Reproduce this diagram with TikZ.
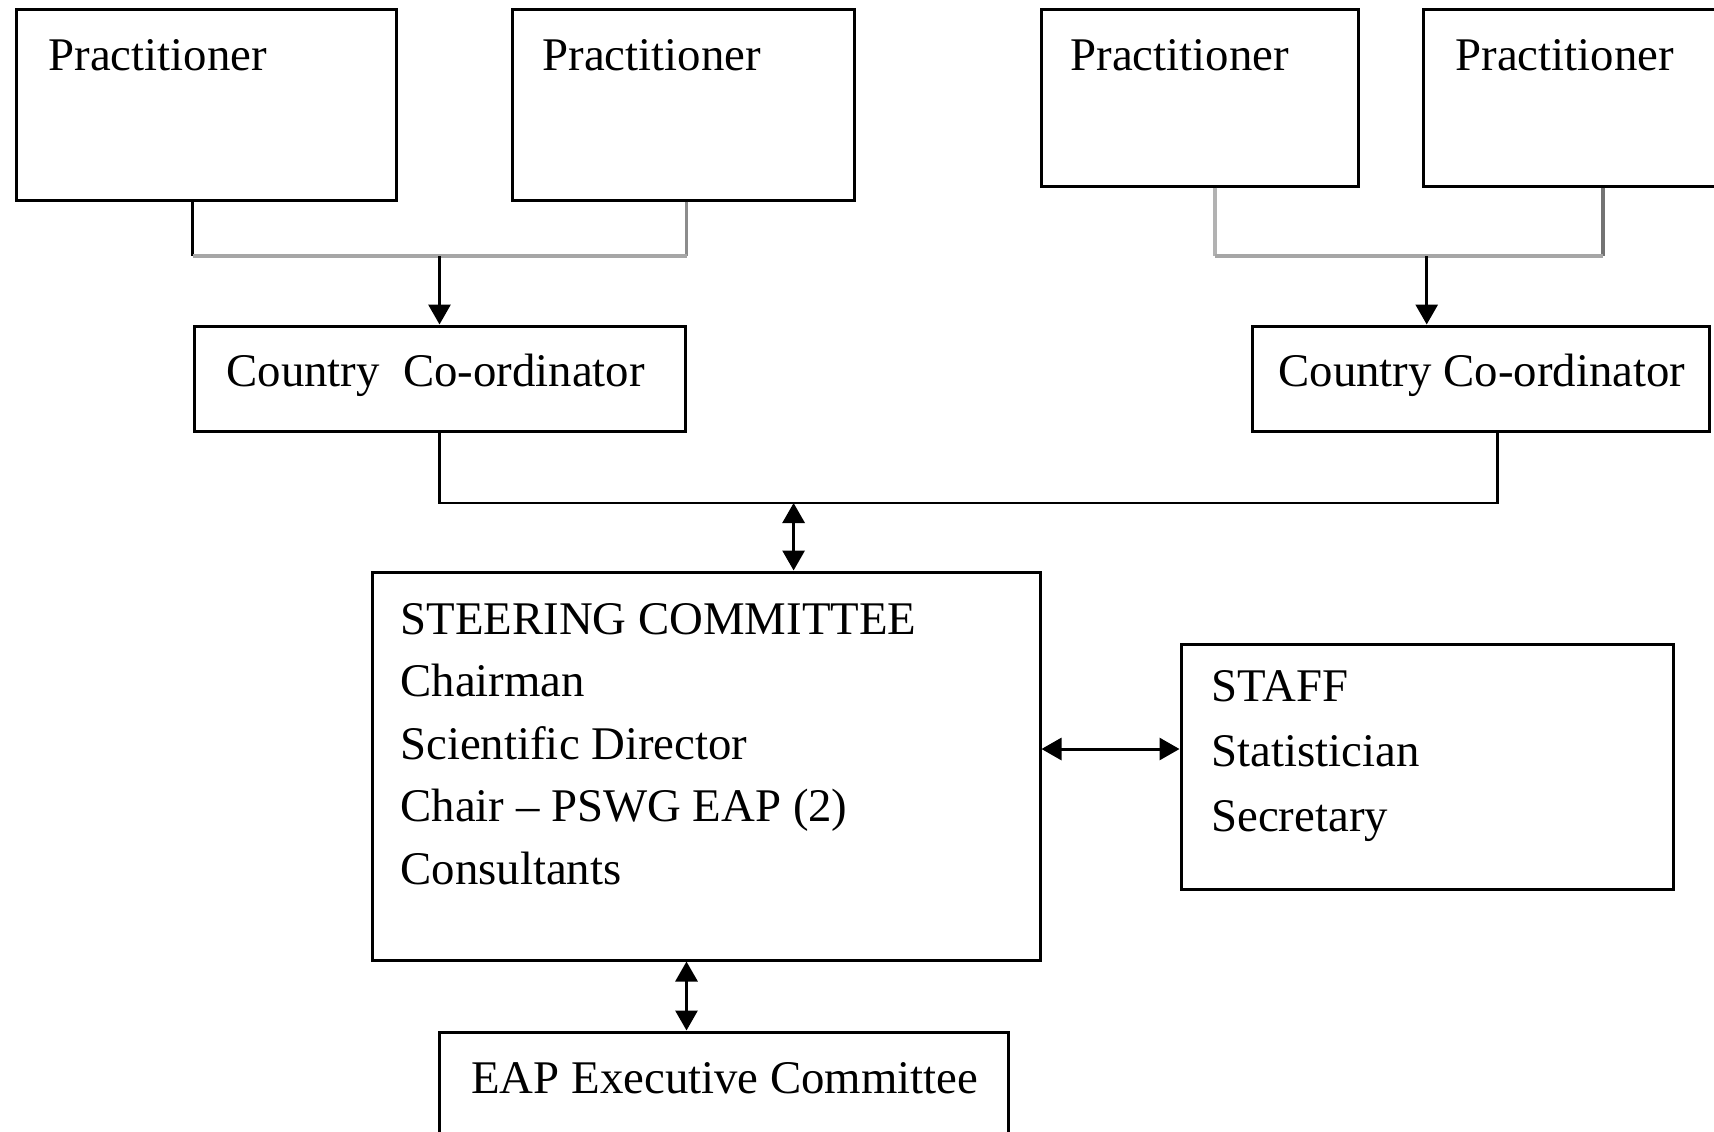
\documentclass[tikz,border=0pt]{standalone}
\usepackage{fontspec}
\setmainfont{Liberation Serif}
\usetikzlibrary{arrows.meta,calc,fit}
\begin{document}
\begin{tikzpicture}[x=0.5pt,y=-0.5pt,
  box/.style={draw, line width=1.5pt, inner sep=0pt},
  txt/.style={inner sep=0pt, anchor=base west, font=\fontsize{23.4}{31.3}\selectfont, align=left},
  con/.style={line width=1.4pt},
  gcon/.style={line width=1.8pt, draw=black!35},
  tip/.tip={Triangle[width=11pt,length=10pt]},
  arr/.style={line width=1.5pt, -tip},
  darr/.style={line width=1.5pt, tip-tip}]
\useasboundingbox (0,0) rectangle (1714,1131);

% boxes
\node[box, fit={(16,9) (396,200)}] (P1) {};
\node[box, fit={(512,9) (854,200)}] (P2) {};
\node[box, fit={(1041,9) (1358,186)}] (P3) {};
\node[box, fit={(1423,9) (1760,186)}] (P4) {};
\node[box, fit={(194,326) (685,431)}] (CC1) {};
\node[box, fit={(1252,326) (1709,431)}] (CC2) {};
\node[box, fit={(372,572) (1040,960)}] (SC) {};
\node[box, fit={(1181,644) (1673,889)}] (ST) {};
\node[box, fit={(439,1032) (1008,1190)}] (EAP) {};

% texts (base anchor of a multi-line node is its last line)
\node[txt] (tP1) at (48,70) {Practitioner};
\node[txt] (tP2) at (542,70) {Practitioner};
\node[txt] (tP3) at (1070,70) {Practitioner};
\node[txt] (tP4) at (1455,70) {Practitioner};
\node[txt] (tCC1) at (226,386) {Country\ \ Co-ordinator};
\node[txt] (tCC2) at (1278,386) {Country Co-ordinator};
\node[txt] (tSC) at (400,884.4) {STEERING COMMITTEE\\Chairman\\Scientific Director\\Chair -- PSWG EAP (2)\\Consultants};
\node[txt, font=\fontsize{23.4}{32.5}\selectfont] (tST) at (1211,831) {STAFF\\Statistician\\Secretary};
\node[txt] (tEAP) at (471,1093) {EAP Executive Committee};

% junction points
\coordinate (j1) at (439.5,256);
\coordinate (d3) at (1215,256);
\coordinate (d4) at (1603,256);
\coordinate (j2) at (1426.7,256);
\coordinate (b2) at (1497.7,503);
\coordinate (m1) at (793.6,503);
\coordinate (s1) at (0,749);
\coordinate (e1) at (686.5,0);

% left practitioners -> CC1
\draw[con] (P1.south -| CC1.west) -- (CC1.west |- j1);
\draw[gcon, draw=black!45] (P2.south -| CC1.east) -- (CC1.east |- j1);
\draw[gcon, line width=2.2pt] (CC1.west |- j1) -- (CC1.east |- j1);
\draw[arr] (j1) -- (CC1.north -| j1);

% right practitioners -> CC2
\draw[gcon, draw=black!30] (P3.south -| d3) -- (d3);
\draw[gcon, draw=black!55] (P4.south -| d4) -- (d4);
\draw[gcon, line width=2.2pt] (d3) -- (d4);
\draw[arr] (j2) -- (CC2.north -| j2);

% CCs -> steering
\draw[con] (CC1.south) -- (CC1.south |- b2) -- (b2) -- (CC2.south -| b2);
\draw[darr] (m1) -- (SC.north -| m1);

% steering <-> staff
\draw[darr] (SC.east |- s1) -- (ST.west |- s1);

% steering <-> EAP
\draw[darr] (SC.south -| e1) -- (EAP.north -| e1);
\end{tikzpicture}
\end{document}
